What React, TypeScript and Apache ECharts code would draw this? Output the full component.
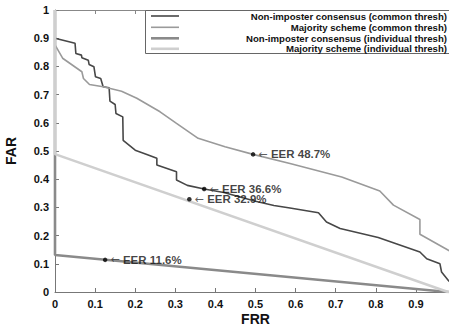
import React, { useEffect, useRef } from "react";
import * as echarts from "echarts";

const legendNames = [
  "Non-imposter consensus (common thresh)",
  "Majority scheme (common thresh)",
  "Non-imposter consensus (individual thresh)",
  "Majority scheme (individual thresh)",
];

const nonImposterCommon: number[][] = [
  [0, 0.9], [0.05, 0.882], [0.052, 0.846], [0.066, 0.84], [0.067, 0.831],
  [0.083, 0.822], [0.085, 0.807], [0.097, 0.799], [0.101, 0.763], [0.114, 0.757],
  [0.12, 0.728], [0.135, 0.724], [0.137, 0.677], [0.15, 0.665], [0.152, 0.633],
  [0.169, 0.621], [0.17, 0.538], [0.2, 0.503], [0.229, 0.488], [0.254, 0.474],
  [0.254, 0.45], [0.303, 0.426], [0.303, 0.397], [0.33, 0.378], [0.372, 0.365],
  [0.421, 0.353], [0.5, 0.322], [0.546, 0.307], [0.586, 0.298], [0.657, 0.281],
  [0.677, 0.248], [0.711, 0.225], [0.806, 0.193], [0.91, 0.142], [0.927, 0.118],
  [0.96, 0.1], [0.964, 0.071], [0.981, 0.041], [0.995, 0.02],
];

const majorityCommon: number[][] = [
  [0, 0.876], [0.019, 0.829], [0.067, 0.781], [0.071, 0.757], [0.086, 0.736],
  [0.12, 0.728], [0.166, 0.712], [0.204, 0.687], [0.262, 0.639], [0.303, 0.598],
  [0.357, 0.545], [0.424, 0.515], [0.494, 0.488], [0.586, 0.456], [0.715, 0.408],
  [0.81, 0.358], [0.844, 0.308], [0.91, 0.257], [0.91, 0.205], [0.981, 0.148],
  [0.995, 0.135],
];

const nonImposterIndividual: number[][] = [
  [0, 1], [0, 0.131], [0.98, 0], [1, 0],
];

const majorityIndividual: number[][] = [
  [0, 1], [0, 0.489], [0.98, 0], [1, 0],
];

const eerPoints: (number | string)[][] = [
  [0.494, 0.488, "EER 48.7%"],
  [0.372, 0.365, "EER 36.6%"],
  [0.335, 0.329, "EER 32.9%"],
  [0.125, 0.114, "EER 11.6%"],
];

const lineColors = ["#474747", "#9a9a9a", "#8a8a8a", "#cfcfcf"];
const lineWidths = [1.6, 1.6, 2.6, 2.6];

export default function App() {
  const ref = useRef<HTMLDivElement>(null);
  useEffect(() => {
    if (!ref.current) return;
    const chart = echarts.init(ref.current, null, { renderer: "svg" });
    const font = "Liberation Sans, Arial, Helvetica, sans-serif";
    const datasets = [nonImposterCommon, majorityCommon, nonImposterIndividual, majorityIndividual];
    const legendRowsY = [16, 27.3, 38.3, 48.8];
    const graphics: any[] = [
      {
        type: "rect",
        shape: { x: 145.5, y: 10.5, width: 320, height: 43 },
        style: { fill: "#fff", stroke: "#666", lineWidth: 1 },
        z: 100,
      },
    ];
    legendNames.forEach((name, i) => {
      graphics.push({
        type: "line",
        shape: { x1: 151, y1: legendRowsY[i], x2: 179, y2: legendRowsY[i] },
        style: { stroke: lineColors[i], lineWidth: lineWidths[i] },
        z: 101,
      });
      graphics.push({
        type: "text",
        x: 447,
        y: legendRowsY[i],
        style: {
          text: name,
          align: "right",
          verticalAlign: "middle",
          font: `bold 9.6px ${font}`,
          fill: "#111",
        },
        z: 101,
      });
    });
    chart.setOption({
      animation: false,
      grid: { left: 55, top: 10, width: 401, height: 282, outerBoundsMode: "none", containLabel: false },
      xAxis: [
        {
          type: "value",
          min: 0,
          max: 1,
          interval: 0.1,
          name: "FRR",
          nameLocation: "middle",
          nameGap: 20,
          nameMoveOverlap: false,
          nameTextStyle: { fontFamily: font, fontWeight: "bold", fontSize: 14, color: "#111" },
          axisLine: { show: true, lineStyle: { color: "#777", width: 1 } },
          axisTick: { show: true, inside: true, length: 4, lineStyle: { color: "#777" } },
          axisLabel: {
            fontFamily: font, fontWeight: "bold", fontSize: 11, color: "#111", margin: 6,
            formatter: (v: number) => (v >= 1 ? "" : String(v)),
          },
          splitLine: { show: false },
        },
        {
          type: "value",
          position: "top",
          min: 0,
          max: 1,
          interval: 0.1,
          axisLine: { show: true, lineStyle: { color: "#888", width: 1 } },
          axisTick: { show: true, inside: true, length: 4, lineStyle: { color: "#888" } },
          axisLabel: { show: false },
          splitLine: { show: false },
        },
      ],
      yAxis: {
        type: "value",
        min: 0,
        max: 1,
        interval: 0.1,
        name: "FAR",
        nameLocation: "middle",
        nameGap: 37,
        nameMoveOverlap: false,
        nameTextStyle: { fontFamily: font, fontWeight: "bold", fontSize: 14, color: "#111" },
        axisLine: { show: true, lineStyle: { color: "#777", width: 1 } },
        axisTick: { show: true, inside: true, length: 4, lineStyle: { color: "#777" } },
        axisLabel: { fontFamily: font, fontWeight: "bold", fontSize: 11, color: "#111", margin: 6 },
        splitLine: { show: false },
      },
      series: [
        ...datasets.map((d, i) => ({
          type: "line",
          name: legendNames[i],
          data: d,
          showSymbol: false,
          symbol: "none",
          lineStyle: { color: lineColors[i], width: lineWidths[i] },
          z: 2 + i,
          clip: true,
        })),
        {
          type: "scatter",
          data: eerPoints,
          symbol: "circle",
          symbolSize: 4.5,
          itemStyle: { color: "#000" },
          z: 10,
          label: {
            show: true,
            position: "right",
            distance: 3,
            formatter: (p: any) => `{a|←} {b|${p.data[2]}}`,
            rich: {
              a: { fontFamily: "DejaVu Sans", fontSize: 11, color: "#333" },
              b: { fontFamily: font, fontWeight: "bold", fontSize: 11.5, color: "#111" },
            },
          },
        },
      ],
      graphic: graphics,
    });
    return () => chart.dispose();
  }, []);
  return (
    <div
      ref={ref}
      style={{ position: "absolute", left: 0, top: 0, width: 449, height: 328, background: "#fff" }}
    />
  );
}
